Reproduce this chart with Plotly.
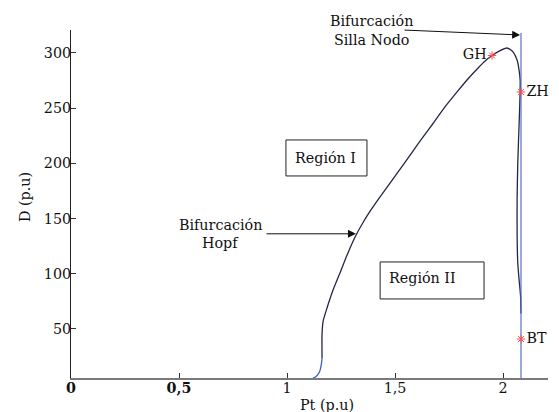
import plotly.graph_objects as go

# curva de bifurcacion (Pt, D)
pt_base = [1.120, 1.135, 1.150, 1.158, 1.162]
d_base = [5.6, 7.0, 11.0, 17.0, 23.7]

pt_curva = [1.162, 1.162, 1.167, 1.185, 1.213, 1.245, 1.278, 1.315, 1.356, 1.398,
            1.444, 1.491, 1.537, 1.583, 1.630, 1.676, 1.731, 1.787, 1.833, 1.880,
            1.917, 1.949, 1.986, 2.019, 2.046, 2.065, 2.074, 2.079, 2.079, 2.075,
            2.068, 2.065, 2.065, 2.068, 2.074, 2.081, 2.083]
d_curva = [23.7, 45.0, 57.0, 69.0, 85.3, 100.7, 117.0, 133.3, 147.8, 160.5,
           173.2, 185.9, 198.5, 211.2, 223.9, 236.1, 251.1, 264.7, 275.5, 285.5,
           292.7, 297.7, 302.2, 304.5, 301.0, 293.6, 284.6, 275.5, 265.0, 240.0,
           200.0, 167.0, 137.0, 110.0, 95.0, 80.0, 64.0]

# recta de la bifurcacion silla-nodo
pt_sn = [2.083, 2.083]
d_sn = [5.6, 318.0]

# puntos especiales
pt_puntos = [1.949, 2.083, 2.083]
d_puntos = [297.7, 264.7, 40.9]
nombres_puntos = ['GH', 'ZH', 'BT']
pos_puntos = ['middle left', 'middle right', 'middle right']

x_ticks = [0, 0.5, 1, 1.5, 2]
x_ticktext = ['<b>0</b>', '<b>0,5</b>', '1', '1,5', '2']
y_ticks = [50, 100, 150, 200, 250, 300]

FUENTE = 'DejaVu Serif'
letra = dict(family=FUENTE, size=14.3, color='#111')

fig = go.Figure()

fig.add_trace(go.Scatter(x=pt_base, y=d_base, mode='lines',
                         line=dict(color='#3d5ec4', width=1.3, shape='spline')))
fig.add_trace(go.Scatter(x=pt_curva, y=d_curva, mode='lines',
                         line=dict(color='#23264a', width=1.3, shape='spline',
                                   smoothing=0.6)))
fig.add_trace(go.Scatter(x=pt_sn, y=d_sn, mode='lines',
                         line=dict(color='#5672c8', width=1.2)))
fig.add_trace(go.Scatter(x=pt_puntos, y=d_puntos, mode='markers+text',
                         text=nombres_puntos, textposition=pos_puntos,
                         textfont=letra, cliponaxis=False,
                         marker=dict(symbol='asterisk-open', size=7, color='#ff4d4d',
                                     line=dict(color='#ff4d4d', width=1))))

# cajas de las regiones
fig.add_shape(type='rect', x0=0.995, x1=1.370, y0=188.6, y1=221.2,
              line=dict(color='#222', width=1))
fig.add_shape(type='rect', x0=1.431, x1=1.912, y0=77.2, y1=110.7,
              line=dict(color='#222', width=1))

textos = [
    ('Región I', 1.028, 'x', 204.9, 'y', 'left'),
    ('Región II', 1.463, 'x', 96.5, 'y', 'left'),
    ('Bifurcación', 1.389, 'x', 1.026, 'paper', 'center'),
    ('Silla Nodo', 1.389, 'x', 0.971, 'paper', 'center'),
    ('Bifurcación', 0.694, 'x', 144.2, 'y', 'center'),
    ('Hopf', 0.694, 'x', 127.9, 'y', 'center'),
]
for t, x, xr, y, yr, anc in textos:
    fig.add_annotation(x=x, y=y, xref=xr, yref=yr, text=t, showarrow=False,
                       xanchor=anc, yanchor='middle', font=letra)

# flechas
for x0, y0, x1, y1 in [(1.537, 320.8, 2.079, 316.3), (0.898, 136.2, 1.319, 136.2)]:
    fig.add_annotation(x=x1, y=y1, ax=x0, ay=y0, axref='x', ayref='y', text='',
                       showarrow=True, arrowhead=2, arrowsize=1.6, arrowwidth=1,
                       arrowcolor='#111')

fig.add_annotation(x=1.185, y=-0.0776, xref='x', yref='paper', text='Pt (p.u)',
                   showarrow=False, yanchor='middle', font=letra)
fig.add_annotation(x=-0.0964, y=0.52, xref='paper', yref='paper', text='D (p.u)',
                   textangle=-90, showarrow=False, xanchor='center',
                   yanchor='middle', font=letra)

# la pagina deja 8 px de margen: la figura se reduce en esa medida
fig.update_layout(
    width=551, height=404,
    margin=dict(l=63, r=11, t=22, b=34),
    plot_bgcolor='white', paper_bgcolor='white',
    showlegend=False,
    font=letra,
    xaxis=dict(range=[0, 2.208], tickvals=x_ticks, ticktext=x_ticktext,
               automargin=False, showgrid=False, zeroline=False, showline=True,
               linecolor='#7a7a7a', linewidth=2, ticks='inside', ticklen=5,
               tickcolor='#333', tickfont=letra, ticklabelstandoff=-4),
    yaxis=dict(range=[5.6, 320.8], tickvals=y_ticks,
               automargin=False, showgrid=False, zeroline=False, showline=True,
               linecolor='#222', linewidth=1, ticks='inside', ticklen=5,
               tickcolor='#333', tickfont=letra, ticklabelstandoff=-4),
)

fig.write_html('out.html')
